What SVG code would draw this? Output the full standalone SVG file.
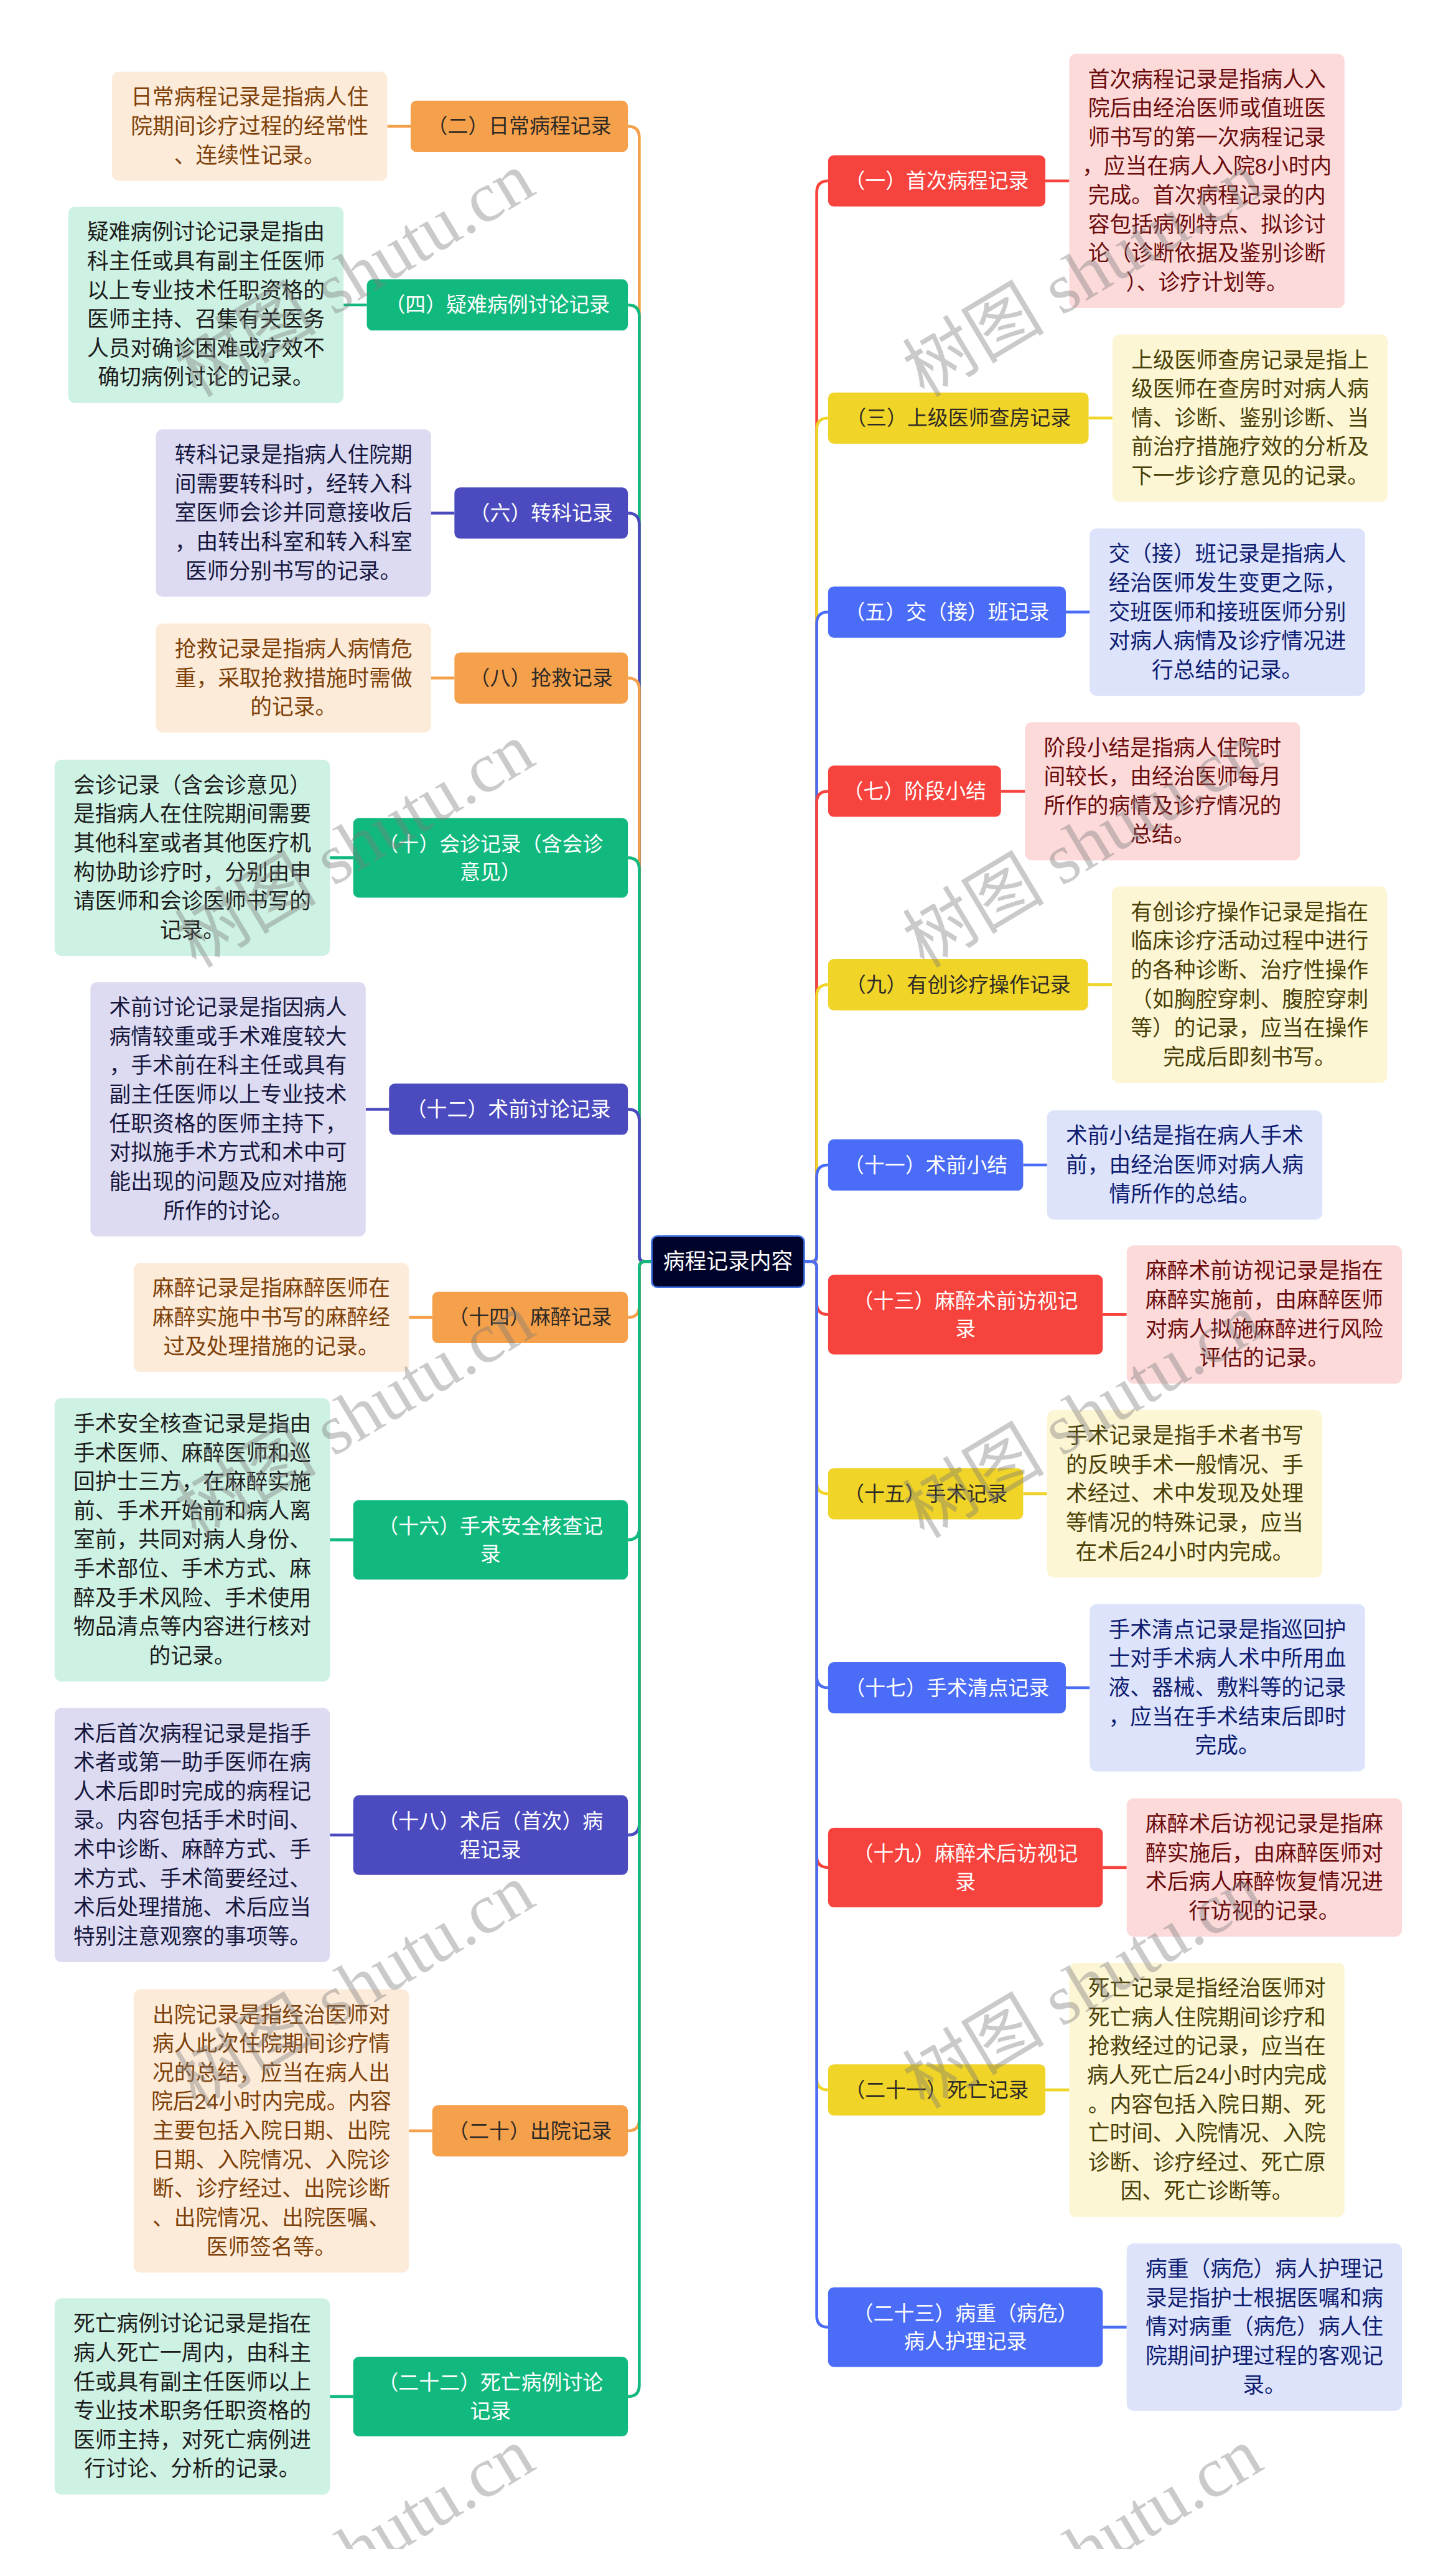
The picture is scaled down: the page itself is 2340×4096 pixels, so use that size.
<svg xmlns="http://www.w3.org/2000/svg" width="2340" height="4096" viewBox="0 0 2340 4096">
<style>
text{font-family:"Liberation Sans","Noto Sans CJK SC",sans-serif;text-anchor:middle;dominant-baseline:central}
.nt{font-size:36px}
.dt{font-size:38px}
.rt{font-size:38px;fill:#ffffff}
.w{fill:#ffffff}.k{fill:#2e2a26}
.nOr{fill:#F5A04A}.nGr{fill:#12B97E}.nPu{fill:#4B4BBF}.nRe{fill:#F6433D}.nYe{fill:#F0D427}.nBl{fill:#4A6CF6}
.dOr{fill:#FDEBDA}.dGr{fill:#CDF1E2}.dPu{fill:#DCDBF2}.dRe{fill:#FCDADA}.dYe{fill:#FCF6D5}.dBl{fill:#DCE3FB}
.tOr{fill:#7E4108}.tGr{fill:#1c1c1c}.tPu{fill:#17173e}.tRe{fill:#6B0B0B}.tYe{fill:#4A4006}.tBl{fill:#0E1C70}
.c{fill:none;stroke-width:5}
.cOr{stroke:#F5A04A}.cGr{stroke:#12B97E}.cPu{stroke:#4B4BBF}.cRe{stroke:#F6433D}.cYe{stroke:#F0D427}.cBl{stroke:#4A6CF6}
.wm{font-family:"Liberation Serif","Noto Sans CJK SC",serif;font-size:125px;fill:#7a7a7a;fill-opacity:0.4;text-anchor:start;dominant-baseline:auto}
</style>
<rect width="2340" height="4096" fill="#ffffff"/>
<g transform="scale(0.9140625)">
<g id="connectors">
<path class="c cRe" d="M1414 2218 H1426 Q1436 2218 1436 2208 V338 Q1436 318 1456 318"/>
<path class="c cOr" d="M1146 2218 H1134 Q1124 2218 1124 2208 V242 Q1124 222 1104 222"/>
<path class="c cYe" d="M1414 2218 H1426 Q1436 2218 1436 2208 V755 Q1436 735 1456 735"/>
<path class="c cGr" d="M1146 2218 H1134 Q1124 2218 1124 2208 V556 Q1124 536 1104 536"/>
<path class="c cBl" d="M1414 2218 H1426 Q1436 2218 1436 2208 V1096 Q1436 1076 1456 1076"/>
<path class="c cPu" d="M1146 2218 H1134 Q1124 2218 1124 2208 V922 Q1124 902 1104 902"/>
<path class="c cRe" d="M1414 2218 H1426 Q1436 2218 1436 2208 V1411 Q1436 1391 1456 1391"/>
<path class="c cOr" d="M1146 2218 H1134 Q1124 2218 1124 2208 V1212 Q1124 1192 1104 1192"/>
<path class="c cYe" d="M1414 2218 H1426 Q1436 2218 1436 2208 V1751 Q1436 1731 1456 1731"/>
<path class="c cGr" d="M1146 2218 H1134 Q1124 2218 1124 2208 V1528 Q1124 1508 1104 1508"/>
<path class="c cBl" d="M1414 2218 H1426 Q1436 2218 1436 2208 V2068 Q1436 2048 1456 2048"/>
<path class="c cPu" d="M1146 2218 H1134 Q1124 2218 1124 2208 V1970 Q1124 1950 1104 1950"/>
<path class="c cRe" d="M1414 2218 H1426 Q1436 2218 1436 2228 V2291 Q1436 2311 1456 2311"/>
<path class="c cOr" d="M1146 2218 H1134 Q1124 2218 1124 2228 V2296 Q1124 2316 1104 2316"/>
<path class="c cYe" d="M1414 2218 H1426 Q1436 2218 1436 2228 V2606 Q1436 2626 1456 2626"/>
<path class="c cGr" d="M1146 2218 H1134 Q1124 2218 1124 2228 V2687 Q1124 2707 1104 2707"/>
<path class="c cBl" d="M1414 2218 H1426 Q1436 2218 1436 2228 V2947 Q1436 2967 1456 2967"/>
<path class="c cPu" d="M1146 2218 H1134 Q1124 2218 1124 2228 V3206 Q1124 3226 1104 3226"/>
<path class="c cRe" d="M1414 2218 H1426 Q1436 2218 1436 2228 V3263 Q1436 3283 1456 3283"/>
<path class="c cOr" d="M1146 2218 H1134 Q1124 2218 1124 2228 V3726 Q1124 3746 1104 3746"/>
<path class="c cYe" d="M1414 2218 H1426 Q1436 2218 1436 2228 V3654 Q1436 3674 1456 3674"/>
<path class="c cGr" d="M1146 2218 H1134 Q1124 2218 1124 2228 V4193 Q1124 4213 1104 4213"/>
<path class="c cBl" d="M1414 2218 H1426 Q1436 2218 1436 2228 V4071 Q1436 4091 1456 4091"/>
<path class="c cOr" d="M681 222 H722"/>
<path class="c cGr" d="M604 536 H645"/>
<path class="c cPu" d="M758 902 H799"/>
<path class="c cOr" d="M758 1192 H799"/>
<path class="c cGr" d="M580 1508 H621"/>
<path class="c cPu" d="M643 1950 H684"/>
<path class="c cOr" d="M719 2316 H760"/>
<path class="c cGr" d="M580 2707 H621"/>
<path class="c cPu" d="M580 3226 H621"/>
<path class="c cOr" d="M719 3746 H760"/>
<path class="c cGr" d="M580 4213 H621"/>
<path class="c cRe" d="M1838 318 H1880"/>
<path class="c cYe" d="M1914 735 H1956"/>
<path class="c cBl" d="M1874 1076 H1916"/>
<path class="c cRe" d="M1760 1391 H1802"/>
<path class="c cYe" d="M1913 1731 H1955"/>
<path class="c cBl" d="M1799 2048 H1841"/>
<path class="c cRe" d="M1939 2311 H1981"/>
<path class="c cYe" d="M1799 2626 H1841"/>
<path class="c cBl" d="M1874 2967 H1916"/>
<path class="c cRe" d="M1939 3283 H1981"/>
<path class="c cYe" d="M1838 3674 H1880"/>
<path class="c cBl" d="M1939 4091 H1981"/>
</g>
<g id="root">
<rect x="1146" y="2173" width="268" height="90" rx="10" fill="#00032A" stroke="#3F6FE0" stroke-width="3"/>
<text class="rt" x="1280" y="2218">病程记录内容</text>
</g>
<g id="n2">
<rect class="nOr" x="722" y="177" width="382" height="90" rx="10"/>
<text class="nt k" x="913" y="222">（二）日常病程记录</text>
<rect class="dOr" x="197" y="126" width="484" height="192" rx="12"/>
<text class="dt tOr"><tspan x="439" y="171">日常病程记录是指病人住</tspan><tspan x="439" y="222">院期间诊疗过程的经常性</tspan><tspan x="439" y="273">、连续性记录。</tspan></text>
</g>
<g id="n4">
<rect class="nGr" x="645" y="491" width="459" height="90" rx="10"/>
<text class="nt w" x="874.5" y="536">（四）疑难病例讨论记录</text>
<rect class="dGr" x="120" y="363.5" width="484" height="345" rx="12"/>
<text class="dt tGr"><tspan x="362" y="408.5">疑难病例讨论记录是指由</tspan><tspan x="362" y="459.5">科主任或具有副主任医师</tspan><tspan x="362" y="510.5">以上专业技术任职资格的</tspan><tspan x="362" y="561.5">医师主持、召集有关医务</tspan><tspan x="362" y="612.5">人员对确诊困难或疗效不</tspan><tspan x="362" y="663.5">确切病例讨论的记录。</tspan></text>
</g>
<g id="n6">
<rect class="nPu" x="799" y="857" width="305" height="90" rx="10"/>
<text class="nt w" x="951.5" y="902">（六）转科记录</text>
<rect class="dPu" x="274" y="755" width="484" height="294" rx="12"/>
<text class="dt tPu"><tspan x="516" y="800">转科记录是指病人住院期</tspan><tspan x="516" y="851">间需要转科时，经转入科</tspan><tspan x="516" y="902">室医师会诊并同意接收后</tspan><tspan x="516" y="953">，由转出科室和转入科室</tspan><tspan x="516" y="1004">医师分别书写的记录。</tspan></text>
</g>
<g id="n8">
<rect class="nOr" x="799" y="1147" width="305" height="90" rx="10"/>
<text class="nt k" x="951.5" y="1192">（八）抢救记录</text>
<rect class="dOr" x="274" y="1096" width="484" height="192" rx="12"/>
<text class="dt tOr"><tspan x="516" y="1141">抢救记录是指病人病情危</tspan><tspan x="516" y="1192">重，采取抢救措施时需做</tspan><tspan x="516" y="1243">的记录。</tspan></text>
</g>
<g id="n10">
<rect class="nGr" x="621" y="1438" width="483" height="140" rx="10"/>
<text class="nt w"><tspan x="862.5" y="1483">（十）会诊记录（含会诊</tspan><tspan x="862.5" y="1533">意见）</tspan></text>
<rect class="dGr" x="96" y="1335.5" width="484" height="345" rx="12"/>
<text class="dt tGr"><tspan x="338" y="1380.5">会诊记录（含会诊意见）</tspan><tspan x="338" y="1431.5">是指病人在住院期间需要</tspan><tspan x="338" y="1482.5">其他科室或者其他医疗机</tspan><tspan x="338" y="1533.5">构协助诊疗时，分别由申</tspan><tspan x="338" y="1584.5">请医师和会诊医师书写的</tspan><tspan x="338" y="1635.5">记录。</tspan></text>
</g>
<g id="n12">
<rect class="nPu" x="684" y="1905" width="420" height="90" rx="10"/>
<text class="nt w" x="894" y="1950">（十二）术前讨论记录</text>
<rect class="dPu" x="159" y="1726.5" width="484" height="447" rx="12"/>
<text class="dt tPu"><tspan x="401" y="1771.5">术前讨论记录是指因病人</tspan><tspan x="401" y="1822.5">病情较重或手术难度较大</tspan><tspan x="401" y="1873.5">，手术前在科主任或具有</tspan><tspan x="401" y="1924.5">副主任医师以上专业技术</tspan><tspan x="401" y="1975.5">任职资格的医师主持下，</tspan><tspan x="401" y="2026.5">对拟施手术方式和术中可</tspan><tspan x="401" y="2077.5">能出现的问题及应对措施</tspan><tspan x="401" y="2128.5">所作的讨论。</tspan></text>
</g>
<g id="n14">
<rect class="nOr" x="760" y="2271" width="344" height="90" rx="10"/>
<text class="nt k" x="932" y="2316">（十四）麻醉记录</text>
<rect class="dOr" x="235" y="2220" width="484" height="192" rx="12"/>
<text class="dt tOr"><tspan x="477" y="2265">麻醉记录是指麻醉医师在</tspan><tspan x="477" y="2316">麻醉实施中书写的麻醉经</tspan><tspan x="477" y="2367">过及处理措施的记录。</tspan></text>
</g>
<g id="n16">
<rect class="nGr" x="621" y="2637" width="483" height="140" rx="10"/>
<text class="nt w"><tspan x="862.5" y="2682">（十六）手术安全核查记</tspan><tspan x="862.5" y="2732">录</tspan></text>
<rect class="dGr" x="96" y="2458" width="484" height="498" rx="12"/>
<text class="dt tGr"><tspan x="338" y="2503">手术安全核查记录是指由</tspan><tspan x="338" y="2554">手术医师、麻醉医师和巡</tspan><tspan x="338" y="2605">回护士三方，在麻醉实施</tspan><tspan x="338" y="2656">前、手术开始前和病人离</tspan><tspan x="338" y="2707">室前，共同对病人身份、</tspan><tspan x="338" y="2758">手术部位、手术方式、麻</tspan><tspan x="338" y="2809">醉及手术风险、手术使用</tspan><tspan x="338" y="2860">物品清点等内容进行核对</tspan><tspan x="338" y="2911">的记录。</tspan></text>
</g>
<g id="n18">
<rect class="nPu" x="621" y="3156" width="483" height="140" rx="10"/>
<text class="nt w"><tspan x="862.5" y="3201">（十八）术后（首次）病</tspan><tspan x="862.5" y="3251">程记录</tspan></text>
<rect class="dPu" x="96" y="3002.5" width="484" height="447" rx="12"/>
<text class="dt tPu"><tspan x="338" y="3047.5">术后首次病程记录是指手</tspan><tspan x="338" y="3098.5">术者或第一助手医师在病</tspan><tspan x="338" y="3149.5">人术后即时完成的病程记</tspan><tspan x="338" y="3200.5">录。内容包括手术时间、</tspan><tspan x="338" y="3251.5">术中诊断、麻醉方式、手</tspan><tspan x="338" y="3302.5">术方式、手术简要经过、</tspan><tspan x="338" y="3353.5">术后处理措施、术后应当</tspan><tspan x="338" y="3404.5">特别注意观察的事项等。</tspan></text>
</g>
<g id="n20">
<rect class="nOr" x="760" y="3701" width="344" height="90" rx="10"/>
<text class="nt k" x="932" y="3746">（二十）出院记录</text>
<rect class="dOr" x="235" y="3497" width="484" height="498" rx="12"/>
<text class="dt tOr"><tspan x="477" y="3542">出院记录是指经治医师对</tspan><tspan x="477" y="3593">病人此次住院期间诊疗情</tspan><tspan x="477" y="3644">况的总结，应当在病人出</tspan><tspan x="477" y="3695">院后24小时内完成。内容</tspan><tspan x="477" y="3746">主要包括入院日期、出院</tspan><tspan x="477" y="3797">日期、入院情况、入院诊</tspan><tspan x="477" y="3848">断、诊疗经过、出院诊断</tspan><tspan x="477" y="3899">、出院情况、出院医嘱、</tspan><tspan x="477" y="3950">医师签名等。</tspan></text>
</g>
<g id="n22">
<rect class="nGr" x="621" y="4143" width="483" height="140" rx="10"/>
<text class="nt w"><tspan x="862.5" y="4188">（二十二）死亡病例讨论</tspan><tspan x="862.5" y="4238">记录</tspan></text>
<rect class="dGr" x="96" y="4040.5" width="484" height="345" rx="12"/>
<text class="dt tGr"><tspan x="338" y="4085.5">死亡病例讨论记录是指在</tspan><tspan x="338" y="4136.5">病人死亡一周内，由科主</tspan><tspan x="338" y="4187.5">任或具有副主任医师以上</tspan><tspan x="338" y="4238.5">专业技术职务任职资格的</tspan><tspan x="338" y="4289.5">医师主持，对死亡病例进</tspan><tspan x="338" y="4340.5">行讨论、分析的记录。</tspan></text>
</g>
<g id="n1">
<rect class="nRe" x="1456" y="273" width="382" height="90" rx="10"/>
<text class="nt w" x="1647" y="318">（一）首次病程记录</text>
<rect class="dRe" x="1880" y="94.5" width="484" height="447" rx="12"/>
<text class="dt tRe"><tspan x="2122" y="139.5">首次病程记录是指病人入</tspan><tspan x="2122" y="190.5">院后由经治医师或值班医</tspan><tspan x="2122" y="241.5">师书写的第一次病程记录</tspan><tspan x="2122" y="292.5">，应当在病人入院8小时内</tspan><tspan x="2122" y="343.5">完成。首次病程记录的内</tspan><tspan x="2122" y="394.5">容包括病例特点、拟诊讨</tspan><tspan x="2122" y="445.5">论（诊断依据及鉴别诊断</tspan><tspan x="2122" y="496.5">）、诊疗计划等。</tspan></text>
</g>
<g id="n3">
<rect class="nYe" x="1456" y="690" width="458" height="90" rx="10"/>
<text class="nt k" x="1685" y="735">（三）上级医师查房记录</text>
<rect class="dYe" x="1956" y="588" width="484" height="294" rx="12"/>
<text class="dt tYe"><tspan x="2198" y="633">上级医师查房记录是指上</tspan><tspan x="2198" y="684">级医师在查房时对病人病</tspan><tspan x="2198" y="735">情、诊断、鉴别诊断、当</tspan><tspan x="2198" y="786">前治疗措施疗效的分析及</tspan><tspan x="2198" y="837">下一步诊疗意见的记录。</tspan></text>
</g>
<g id="n5">
<rect class="nBl" x="1456" y="1031" width="418" height="90" rx="10"/>
<text class="nt w" x="1665" y="1076">（五）交（接）班记录</text>
<rect class="dBl" x="1916" y="929" width="484" height="294" rx="12"/>
<text class="dt tBl"><tspan x="2158" y="974">交（接）班记录是指病人</tspan><tspan x="2158" y="1025">经治医师发生变更之际，</tspan><tspan x="2158" y="1076">交班医师和接班医师分别</tspan><tspan x="2158" y="1127">对病人病情及诊疗情况进</tspan><tspan x="2158" y="1178">行总结的记录。</tspan></text>
</g>
<g id="n7">
<rect class="nRe" x="1456" y="1346" width="304" height="90" rx="10"/>
<text class="nt w" x="1608" y="1391">（七）阶段小结</text>
<rect class="dRe" x="1802" y="1269.5" width="484" height="243" rx="12"/>
<text class="dt tRe"><tspan x="2044" y="1314.5">阶段小结是指病人住院时</tspan><tspan x="2044" y="1365.5">间较长，由经治医师每月</tspan><tspan x="2044" y="1416.5">所作的病情及诊疗情况的</tspan><tspan x="2044" y="1467.5">总结。</tspan></text>
</g>
<g id="n9">
<rect class="nYe" x="1456" y="1686" width="457" height="90" rx="10"/>
<text class="nt k" x="1684.5" y="1731">（九）有创诊疗操作记录</text>
<rect class="dYe" x="1955" y="1558.5" width="484" height="345" rx="12"/>
<text class="dt tYe"><tspan x="2197" y="1603.5">有创诊疗操作记录是指在</tspan><tspan x="2197" y="1654.5">临床诊疗活动过程中进行</tspan><tspan x="2197" y="1705.5">的各种诊断、治疗性操作</tspan><tspan x="2197" y="1756.5">（如胸腔穿刺、腹腔穿刺</tspan><tspan x="2197" y="1807.5">等）的记录，应当在操作</tspan><tspan x="2197" y="1858.5">完成后即刻书写。</tspan></text>
</g>
<g id="n11">
<rect class="nBl" x="1456" y="2003" width="343" height="90" rx="10"/>
<text class="nt w" x="1627.5" y="2048">（十一）术前小结</text>
<rect class="dBl" x="1841" y="1952" width="484" height="192" rx="12"/>
<text class="dt tBl"><tspan x="2083" y="1997">术前小结是指在病人手术</tspan><tspan x="2083" y="2048">前，由经治医师对病人病</tspan><tspan x="2083" y="2099">情所作的总结。</tspan></text>
</g>
<g id="n13">
<rect class="nRe" x="1456" y="2241" width="483" height="140" rx="10"/>
<text class="nt w"><tspan x="1697.5" y="2286">（十三）麻醉术前访视记</tspan><tspan x="1697.5" y="2336">录</tspan></text>
<rect class="dRe" x="1981" y="2189.5" width="484" height="243" rx="12"/>
<text class="dt tRe"><tspan x="2223" y="2234.5">麻醉术前访视记录是指在</tspan><tspan x="2223" y="2285.5">麻醉实施前，由麻醉医师</tspan><tspan x="2223" y="2336.5">对病人拟施麻醉进行风险</tspan><tspan x="2223" y="2387.5">评估的记录。</tspan></text>
</g>
<g id="n15">
<rect class="nYe" x="1456" y="2581" width="343" height="90" rx="10"/>
<text class="nt k" x="1627.5" y="2626">（十五）手术记录</text>
<rect class="dYe" x="1841" y="2479" width="484" height="294" rx="12"/>
<text class="dt tYe"><tspan x="2083" y="2524">手术记录是指手术者书写</tspan><tspan x="2083" y="2575">的反映手术一般情况、手</tspan><tspan x="2083" y="2626">术经过、术中发现及处理</tspan><tspan x="2083" y="2677">等情况的特殊记录，应当</tspan><tspan x="2083" y="2728">在术后24小时内完成。</tspan></text>
</g>
<g id="n17">
<rect class="nBl" x="1456" y="2922" width="418" height="90" rx="10"/>
<text class="nt w" x="1665" y="2967">（十七）手术清点记录</text>
<rect class="dBl" x="1916" y="2820" width="484" height="294" rx="12"/>
<text class="dt tBl"><tspan x="2158" y="2865">手术清点记录是指巡回护</tspan><tspan x="2158" y="2916">士对手术病人术中所用血</tspan><tspan x="2158" y="2967">液、器械、敷料等的记录</tspan><tspan x="2158" y="3018">，应当在手术结束后即时</tspan><tspan x="2158" y="3069">完成。</tspan></text>
</g>
<g id="n19">
<rect class="nRe" x="1456" y="3213" width="483" height="140" rx="10"/>
<text class="nt w"><tspan x="1697.5" y="3258">（十九）麻醉术后访视记</tspan><tspan x="1697.5" y="3308">录</tspan></text>
<rect class="dRe" x="1981" y="3161.5" width="484" height="243" rx="12"/>
<text class="dt tRe"><tspan x="2223" y="3206.5">麻醉术后访视记录是指麻</tspan><tspan x="2223" y="3257.5">醉实施后，由麻醉医师对</tspan><tspan x="2223" y="3308.5">术后病人麻醉恢复情况进</tspan><tspan x="2223" y="3359.5">行访视的记录。</tspan></text>
</g>
<g id="n21">
<rect class="nYe" x="1456" y="3629" width="382" height="90" rx="10"/>
<text class="nt k" x="1647" y="3674">（二十一）死亡记录</text>
<rect class="dYe" x="1880" y="3450.5" width="484" height="447" rx="12"/>
<text class="dt tYe"><tspan x="2122" y="3495.5">死亡记录是指经治医师对</tspan><tspan x="2122" y="3546.5">死亡病人住院期间诊疗和</tspan><tspan x="2122" y="3597.5">抢救经过的记录，应当在</tspan><tspan x="2122" y="3648.5">病人死亡后24小时内完成</tspan><tspan x="2122" y="3699.5">。内容包括入院日期、死</tspan><tspan x="2122" y="3750.5">亡时间、入院情况、入院</tspan><tspan x="2122" y="3801.5">诊断、诊疗经过、死亡原</tspan><tspan x="2122" y="3852.5">因、死亡诊断等。</tspan></text>
</g>
<g id="n23">
<rect class="nBl" x="1456" y="4021" width="483" height="140" rx="10"/>
<text class="nt w"><tspan x="1697.5" y="4066">（二十三）病重（病危）</tspan><tspan x="1697.5" y="4116">病人护理记录</tspan></text>
<rect class="dBl" x="1981" y="3944" width="484" height="294" rx="12"/>
<text class="dt tBl"><tspan x="2223" y="3989">病重（病危）病人护理记</tspan><tspan x="2223" y="4040">录是指护士根据医嘱和病</tspan><tspan x="2223" y="4091">情对病重（病危）病人住</tspan><tspan x="2223" y="4142">院期间护理过程的客观记</tspan><tspan x="2223" y="4193">录。</tspan></text>
</g>
<g id="watermark">
<text class="wm" transform="translate(345 700) rotate(-31)">树图 shutu.cn</text>
<text class="wm" transform="translate(1625 700) rotate(-31)">树图 shutu.cn</text>
<text class="wm" transform="translate(345 1703) rotate(-31)">树图 shutu.cn</text>
<text class="wm" transform="translate(1625 1703) rotate(-31)">树图 shutu.cn</text>
<text class="wm" transform="translate(345 2706) rotate(-31)">树图 shutu.cn</text>
<text class="wm" transform="translate(1625 2706) rotate(-31)">树图 shutu.cn</text>
<text class="wm" transform="translate(345 3709) rotate(-31)">树图 shutu.cn</text>
<text class="wm" transform="translate(1625 3709) rotate(-31)">树图 shutu.cn</text>
<text class="wm" transform="translate(586 4555) rotate(-31)">shutu.cn</text>
<text class="wm" transform="translate(1866 4555) rotate(-31)">shutu.cn</text>
</g>
</g>
</svg>
